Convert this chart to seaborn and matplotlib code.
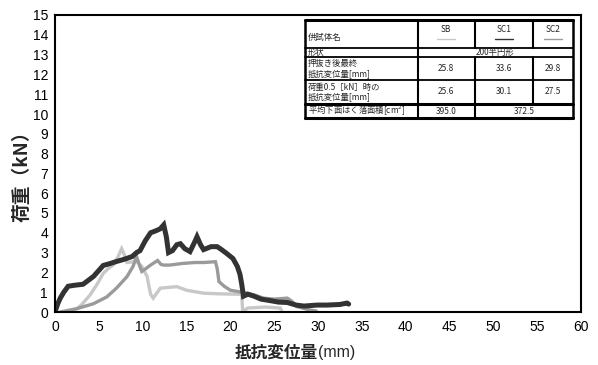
import matplotlib
matplotlib.use("Agg")
import matplotlib.pyplot as plt
import seaborn as sns
import pandas as pd
from matplotlib.patches import Rectangle
from matplotlib.lines import Line2D

# ---- data ----
sc1_x = [0, 0.3, 0.6, 1.0, 1.5, 2.2, 3.2, 3.8, 4.4, 5.0, 5.5, 6.3, 7.0, 7.8, 8.8, 9.3, 9.7, 10.3, 10.9,
         11.5, 12.0, 12.4, 12.7, 12.95, 13.4, 13.9, 14.3, 14.8, 15.4, 16.0, 16.2, 16.6, 16.95, 17.8, 18.5,
         19.0, 19.6, 20.3, 20.8, 21.1, 21.3, 21.5, 22.0, 22.7, 23.5, 24.6, 25.5, 26.5, 27.5, 28.4, 29.9,
         31.0, 32.5, 33.3, 33.5]
sc1_y = [0, 0.4, 0.7, 1.0, 1.3, 1.35, 1.4, 1.6, 1.8, 2.1, 2.35, 2.45, 2.55, 2.65, 2.8, 3.0, 3.1, 3.6, 4.0,
         4.1, 4.2, 4.4, 3.8, 3.0, 3.1, 3.4, 3.45, 3.2, 3.05, 3.6, 3.8, 3.4, 3.15, 3.3, 3.3,
         3.15, 2.95, 2.7, 2.3, 1.9, 1.4, 0.8, 0.9, 0.8, 0.65, 0.57, 0.5, 0.48, 0.35, 0.3, 0.35,
         0.35, 0.38, 0.45, 0.4]

sb_x = [1.5, 2.3, 3.0, 4.0, 4.8, 5.5, 6.1, 6.7, 7.2, 7.6, 7.9, 8.2, 9.3, 9.9, 10.5, 10.9, 11.2, 11.6,
        12.0, 13.1, 13.9, 15.0, 16.95, 18.5, 20.5, 21.3, 21.4, 22.0, 24.0, 25.7, 25.9]
sb_y = [0, 0.1, 0.35, 0.86, 1.4, 1.95, 2.2, 2.4, 2.8, 3.2, 2.9, 2.5, 2.55, 2.3, 1.8, 0.9, 0.7, 0.95,
        1.2, 1.25, 1.28, 1.1, 0.95, 0.92, 0.9, 0.9, 0.05, 0.2, 0.25, 0.2, 0.0]

sc2_x = [0.6, 2.5, 4.4, 5.9, 7.0, 8.2, 8.9, 9.3, 9.6, 9.9, 10.4, 10.9, 11.7, 12.1, 12.4, 13.1, 14.5,
         16.0, 17.0, 18.3, 18.5, 18.7, 19.3, 20.0, 20.8, 21.9, 22.8, 23.8, 25.0, 26.5, 27.0, 27.6,
         29.1, 29.8]
sc2_y = [0, 0.17, 0.42, 0.76, 1.2, 1.78, 2.3, 2.8, 2.4, 2.05, 2.2, 2.37, 2.6, 2.4, 2.37, 2.37, 2.45,
         2.5, 2.5, 2.54, 2.2, 1.54, 1.3, 1.1, 1.04, 0.95, 0.85, 0.7, 0.65, 0.7, 0.55, 0.27,
         0.1, 0.05]

specimens = ["SB", "SC1", "SC2"]
row_labels = ["供試体名", "形状", "押抜き後最終\n抵抗変位量[mm]", "荷重0.5［kN］時の\n抵抗変位量[mm]",
              "平均下面はく落面積[cm$^2$]"]
shape_label = "200半円形"
final_disp = ["25.8", "33.6", "29.8"]
disp_05kN = ["25.6", "30.1", "27.5"]
area_sb = "395.0"
area_sc = "372.5"

x_ticks = list(range(0, 61, 5))
y_ticks = list(range(0, 16, 1))

colors = {"SB": "#c8c8c8", "SC1": "#333333", "SC2": "#9a9a9a"}
widths = {"SB": 2.4, "SC1": 3.6, "SC2": 2.4}

sns.set_style("white")
plt.rcParams["font.family"] = ["Liberation Sans", "Noto Sans CJK JP", "DejaVu Sans"]

fig = plt.figure(figsize=(5.98, 3.65), dpi=100)
ax = fig.add_axes([55 / 598, 1 - 312 / 365, 526 / 598, 297 / 365])

series = [("SB", sb_x, sb_y), ("SC2", sc2_x, sc2_y), ("SC1", sc1_x, sc1_y)]
for name, xs, ys in series:
    df = pd.DataFrame({"x": xs, "y": ys})
    sns.lineplot(data=df, x="x", y="y", ax=ax, color=colors[name], lw=widths[name],
                 estimator=None, sort=False, solid_joinstyle="miter")

ax.set_xlim(0, 60)
ax.set_ylim(0, 15)
ax.set_xticks(x_ticks)
ax.set_yticks(y_ticks)
ax.tick_params(axis="x", direction="in", length=3, width=1, labelsize=10, pad=6, colors="black")
ax.tick_params(axis="y", direction="out", length=3, width=1, labelsize=10, pad=2, colors="black")
for s in ax.spines.values():
    s.set_color("black")
    s.set_linewidth(1.5)

ax.set_xlabel("")
ax.set_ylabel("")
cjk = ["Noto Sans CJK JP", "DejaVu Sans"]
fig.text(318 / 598, 1 - 353 / 365, "抵抗変位量", ha="right", va="center",
         fontsize=12, fontweight="bold", family=cjk)
fig.text(318 / 598, 1 - 353 / 365, "(mm)", ha="left", va="center",
         fontsize=11.5, family=["Liberation Sans", "DejaVu Sans"])
fig.text(22 / 598, 1 - 172 / 365, "荷重（kN）", ha="center", va="center", rotation=90,
         fontsize=13.5, fontweight="bold", family=cjk)

# ---- inset table ----
def ax_pt(px, py):
    return ((px - 55) / 526, (312 - py) / 297)

tf = ax.transAxes
ys_b = [20, 48, 57, 80, 104, 118]
fs = 6
tfam = ["Noto Sans CJK JP", "Liberation Sans", "DejaVu Sans"]

def hline(py, x0, x1, lw=1.2):
    a = ax_pt(x0, py); b = ax_pt(x1, py)
    ax.add_line(Line2D([a[0], b[0]], [a[1], b[1]], transform=tf, color="black", lw=lw,
                       clip_on=False, zorder=6))

def vline(px, y0, y1, lw=1.2):
    a = ax_pt(px, y0); b = ax_pt(px, y1)
    ax.add_line(Line2D([a[0], b[0]], [a[1], b[1]], transform=tf, color="black", lw=lw,
                       clip_on=False, zorder=6))

p0 = ax_pt(305, 118); p1 = ax_pt(573, 20)
ax.add_patch(Rectangle(p0, p1[0] - p0[0], p1[1] - p0[1], transform=tf, facecolor="white",
                       edgecolor="none", zorder=3))
for py in ys_b:
    hline(py, 305, 573, lw=2.2 if py in (20, 104, 118) else 1.3)
vline(305, 20, 118, 1.8)
vline(573, 20, 118, 1.8)
vline(418, 20, 118, 1.5)
vline(475, 20, 48, 1.5); vline(475, 57, 118, 1.5)
vline(533, 20, 48, 1.5); vline(533, 57, 104, 1.5)

def txt(px, py, s, ha="center"):
    a = ax_pt(px, py)
    ax.text(a[0], a[1], s, transform=tf, ha=ha, va="center", fontsize=fs, family=tfam,
            linespacing=1.05, zorder=7)

txt(308, 37, row_labels[0], ha="left")
centers = [446, 504, 553]
for c, name in zip(centers, specimens):
    txt(c, 29, name)
    a = ax_pt(c - 9, 39); b = ax_pt(c + 9, 39)
    ax.add_line(Line2D([a[0], b[0]], [a[1], b[1]], transform=tf, color=colors[name], lw=1.0,
                       zorder=7))
txt(308, 52.5, row_labels[1], ha="left")
txt(495, 52.5, shape_label)
txt(308, 68.5, row_labels[2], ha="left")
for c, v in zip(centers, final_disp):
    txt(c, 68.5, v)
txt(308, 92, row_labels[3], ha="left")
for c, v in zip(centers, disp_05kN):
    txt(c, 92, v)
txt(308, 111, row_labels[4], ha="left")
txt(446, 111, area_sb)
txt(524, 111, area_sc)

fig.savefig("out.png", dpi=100, facecolor="white")
